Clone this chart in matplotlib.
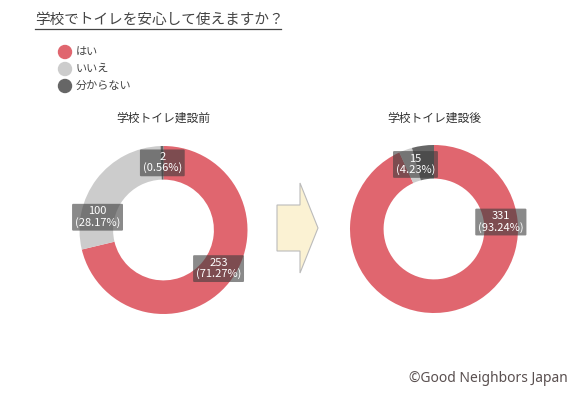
import matplotlib
matplotlib.use("Agg")
import matplotlib.pyplot as plt
from matplotlib.patches import Polygon, Ellipse
from matplotlib.lines import Line2D
import numpy as np

plt.rcParams['font.family'] = ['Noto Sans CJK JP', 'DejaVu Sans']

title = "学校でトイレを安心して使えますか？"
categories = ["はい", "いいえ", "分からない"]
colors = ["#E0666F", "#CCCCCC", "#666666"]

before_title = "学校トイレ建設前"
before_values = [253, 100, 2]
before_labels = ["253\n(71.27%)", "100\n(28.17%)", "2\n(0.56%)"]

after_title = "学校トイレ建設後"
after_values = [331, 9, 15]
after_labels = ["331\n(93.24%)", None, "15\n(4.23%)"]

W, H = 575, 393
fig = plt.figure(figsize=(W / 100, H / 100), dpi=100)


def px_axes(cx, cy, r):
    return fig.add_axes([(cx - r) / W, (H - cy - r) / H, 2 * r / W, 2 * r / H])


def donut(cx, cy, values, labels, label_angles, name):
    # label_angles: clockwise degrees from 12 o'clock where each box sits
    ax = px_axes(cx, cy, 84)
    ax.pie(values, colors=colors, startangle=90, counterclock=False,
           radius=1, wedgeprops=dict(width=0.4, linewidth=0))
    ax.set_xlim(-1, 1)
    ax.set_ylim(-1, 1)
    ax.set_aspect('equal')
    ax.axis('off')
    for lab, a in zip(labels, label_angles):
        if lab is None:
            continue
        ang = np.deg2rad(90 - a)
        ax.text(0.8 * np.cos(ang), 0.8 * np.sin(ang), lab, ha='center', va='center',
                fontsize=8, color='white', linespacing=1.05,
                bbox=dict(boxstyle='round,pad=0.25,rounding_size=0.1',
                          facecolor='#3c3c3c', alpha=0.6, edgecolor='none'))
    fig.text(cx / W, 1 - 118 / H, name, ha='center', va='center',
             fontsize=8.5, color='#333333')


donut(163.5, 230, before_values, before_labels, [125, 281, 359], before_title)
donut(434, 229, after_values, after_labels, [84, None, 344], after_title)

# title with underline
fig.text(35 / W, 1 - 20 / H, title, ha='left', va='center', fontsize=10.5, color='#444444')
fig.add_artist(Line2D([35 / W, 281 / W], [1 - 29 / H, 1 - 29 / H], color='#444444', linewidth=0.9))

# legend
for i, (cat, col) in enumerate(zip(categories, colors)):
    y = 52 + i * 17
    fig.add_artist(Ellipse((65 / W, 1 - y / H), 13 / W, 13 / H, color=col,
                           transform=fig.transFigure))
    fig.text(76 / W, 1 - y / H, cat, ha='left', va='center', fontsize=8, color='#444444')

# arrow
arrow_px = [(277, 205), (300, 205), (300, 183), (318, 228), (300, 273), (300, 251), (277, 251)]
fig.add_artist(Polygon([(x / W, 1 - y / H) for x, y in arrow_px], closed=True,
                       facecolor='#FBF2D3', edgecolor='#BBBBBB', linewidth=0.8,
                       transform=fig.transFigure))

fig.text(568 / W, 1 - 378 / H, "©Good Neighbors Japan", ha='right', va='center',
         fontsize=10, color='#5a5050', family=['Noto Sans', 'DejaVu Sans'])

fig.savefig("out.png", dpi=100)
